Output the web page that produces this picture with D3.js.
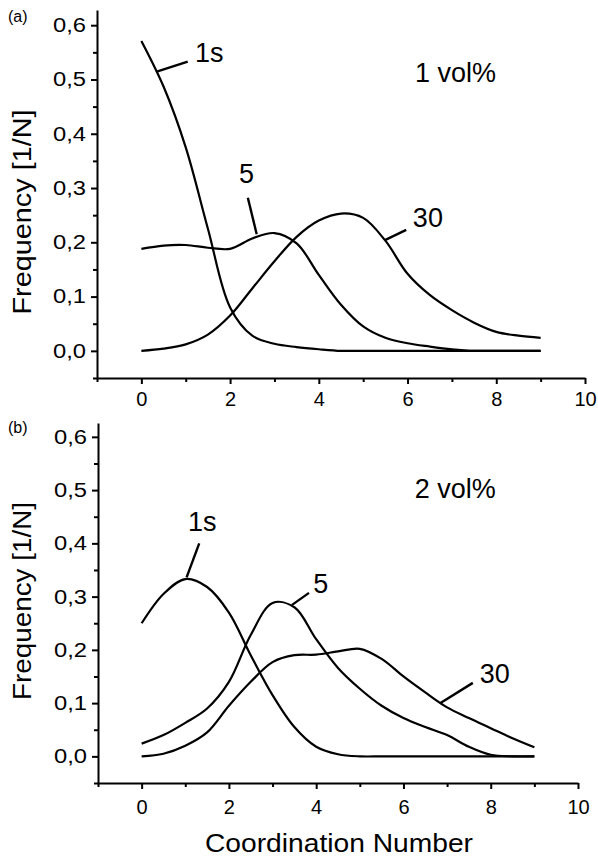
<!DOCTYPE html>
<html>
<head>
<meta charset="utf-8">
<script src="https://cdn.jsdelivr.net/npm/d3@7"></script>
<style>
  html, body { margin: 0; padding: 0; background: #fff; }
  svg { display: block; }
  text { font-family: "Liberation Sans", Arial, Helvetica, sans-serif; fill: #000; }
</style>
</head>
<body>
<svg id="chart" width="598" height="859"></svg>
<script>
// ---------------- data ----------------
const coordination = [0, 0.5, 1, 1.5, 2, 2.5, 3, 3.5, 4, 4.5, 5, 5.5, 6, 6.5, 7, 7.5, 8, 8.5, 9];

// (a) 1 vol%
const a1s = [0.571, 0.487, 0.375, 0.225, 0.080, 0.028, 0.013, 0.007, 0.003, 0.000, 0, 0, 0, 0, 0, 0, 0, 0, 0];
const a5  = [0.188, 0.194, 0.195, 0.190, 0.188, 0.207, 0.217, 0.198, 0.140, 0.085, 0.045, 0.024, 0.014, 0.008, 0.003, 0.000, 0, 0, 0];
const a30 = [0.000, 0.004, 0.012, 0.030, 0.065, 0.115, 0.165, 0.210, 0.240, 0.253, 0.245, 0.203, 0.142, 0.103, 0.075, 0.052, 0.035, 0.028, 0.024];

// (b) 2 vol%
const b1s = [0.250, 0.305, 0.333, 0.318, 0.270, 0.190, 0.115, 0.055, 0.018, 0.004, 0, 0, 0, 0, 0, 0, 0, 0, 0];
const b5  = [0.024, 0.040, 0.063, 0.090, 0.140, 0.228, 0.288, 0.280, 0.220, 0.166, 0.127, 0.095, 0.072, 0.055, 0.040, 0.018, 0.003, 0, 0];
const b30 = [0.000, 0.005, 0.020, 0.045, 0.095, 0.140, 0.177, 0.190, 0.191, 0.197, 0.202, 0.183, 0.150, 0.120, 0.092, 0.072, 0.053, 0.034, 0.017];

const xMajorTicks = [0, 2, 4, 6, 8, 10];
const xMinorTicks = [-1, 1, 3, 5, 7, 9];
const yMajorTicks = [0, 0.1, 0.2, 0.3, 0.4, 0.5, 0.6];
const yMinorTicks = [-0.05, 0.05, 0.15, 0.25, 0.35, 0.45, 0.55];
const yTickLabels = ["0,0", "0,1", "0,2", "0,3", "0,4", "0,5", "0,6"];

const seriesNames = ["1s", "5", "30"];
const panelTitles = ["1 vol%", "2 vol%"];
const panelTags = ["(a)", "(b)"];
const xTitle = "Coordination Number";
const yTitle = "Frequency [1/N]";

// annotation anchors in data units: [leader start x, y, leader end x, y, label x, label y]
const aNotes = [
  [0.33, 0.514, 1.045, 0.533, 1.21, 0.533],
  [2.60, 0.215, 2.40, 0.282, 2.37, 0.310],
  [5.49, 0.204, 5.97, 0.223, 6.12, 0.229]
];
const bNotes = [
  [1.03, 0.336, 1.32, 0.400, 1.06, 0.423],
  [3.44, 0.284, 3.835, 0.307, 3.93, 0.307],
  [6.84, 0.0997, 7.59, 0.138, 7.75, 0.138]
];
const titlePos = [[6.17, 0.495], [6.26, 0.485]];

// ---------------- layout ----------------
const panels = [
  { series: [a1s, a5, a30], notes: aNotes, anchors: ["start", "middle", "start"],
    xRange: [97, 585], yRange: [378, 10], yDomain: [-0.05, 0.628], xPad: 8,
    tag: [8, 22], yTitle: [31, 212], yTitleLen: 205 },
  { series: [b1s, b5, b30], notes: bNotes, anchors: ["start", "start", "start"],
    xRange: [98, 578], yRange: [783, 423], yDomain: [-0.05, 0.626], xPad: 11,
    tag: [8, 433], yTitle: [31, 601], yTitleLen: 198 }
];

const svg = d3.select("#chart");

panels.forEach((p, i) => {
  const x = d3.scaleLinear().domain([-1, 10]).range(p.xRange);
  const y = d3.scaleLinear().domain(p.yDomain).range(p.yRange);
  const g = svg.append("g");
  const x0 = p.yRange[0];
  const y0 = p.xRange[0];

  // minor ticks
  g.append("g").attr("transform", `translate(0,${x0})`)
    .call(d3.axisBottom(x).tickValues(xMinorTicks).tickSize(4).tickSizeOuter(0).tickFormat(""))
    .call(s => s.select(".domain").remove());
  g.append("g").attr("transform", `translate(${y0},0)`)
    .call(d3.axisLeft(y).tickValues(yMinorTicks).tickSize(4).tickSizeOuter(0).tickFormat(""))
    .call(s => s.select(".domain").remove());

  // major x axis
  g.append("g").attr("class", "xaxis").attr("transform", `translate(0,${x0})`)
    .call(d3.axisBottom(x).tickValues(xMajorTicks).tickSize(6).tickSizeOuter(0).tickPadding(p.xPad));
  // major y axis
  g.append("g").attr("class", "yaxis").attr("transform", `translate(${y0},0)`)
    .call(d3.axisLeft(y).tickValues(yMajorTicks).tickSize(6).tickSizeOuter(0).tickPadding(5)
      .tickFormat((d, k) => yTickLabels[k]));

  g.selectAll(".domain, .tick line").attr("stroke", "#000").attr("stroke-width", 2);
  g.selectAll(".tick text").attr("font-size", 20)
    .attr("font-family", "'Liberation Sans', Arial, sans-serif").attr("fill", "#000");
  g.selectAll(".yaxis .tick text").attr("textLength", 33).attr("lengthAdjust", "spacingAndGlyphs");

  // curves
  const line = d3.line()
    .x((d, k) => x(coordination[k]))
    .y(d => y(d))
    .curve(d3.curveCatmullRom.alpha(0.5));
  p.series.forEach(s => {
    g.append("path").datum(s).attr("d", line)
      .attr("fill", "none").attr("stroke", "#000").attr("stroke-width", 2.2)
      .attr("stroke-linejoin", "round").attr("stroke-linecap", "butt");
  });

  // annotations
  p.notes.forEach((n, k) => {
    g.append("line")
      .attr("x1", x(n[0])).attr("y1", y(n[1]))
      .attr("x2", x(n[2])).attr("y2", y(n[3]))
      .attr("stroke", "#000").attr("stroke-width", 2.4);
    g.append("text")
      .attr("x", x(n[4])).attr("y", y(n[5]))
      .attr("text-anchor", p.anchors[k])
      .attr("font-size", 27)
      .text(seriesNames[k]);
  });

  g.append("text")
    .attr("x", x(titlePos[i][0])).attr("y", y(titlePos[i][1]))
    .attr("font-size", 27)
    .text(panelTitles[i]);

  svg.append("text")
    .attr("x", p.tag[0]).attr("y", p.tag[1])
    .attr("font-size", 16)
    .text(panelTags[i]);

  svg.append("text")
    .attr("transform", `translate(${p.yTitle[0]},${p.yTitle[1]}) rotate(-90)`)
    .attr("text-anchor", "middle")
    .attr("font-size", 26.5)
    .attr("textLength", p.yTitleLen).attr("lengthAdjust", "spacingAndGlyphs")
    .text(yTitle);

  if (i === 1) {
    svg.append("text")
      .attr("x", (p.xRange[0] + p.xRange[1]) / 2 + 1).attr("y", 852)
      .attr("text-anchor", "middle")
      .attr("font-size", 25.5)
      .attr("textLength", 268).attr("lengthAdjust", "spacingAndGlyphs")
      .text(xTitle);
  }
});
</script>
</body>
</html>
